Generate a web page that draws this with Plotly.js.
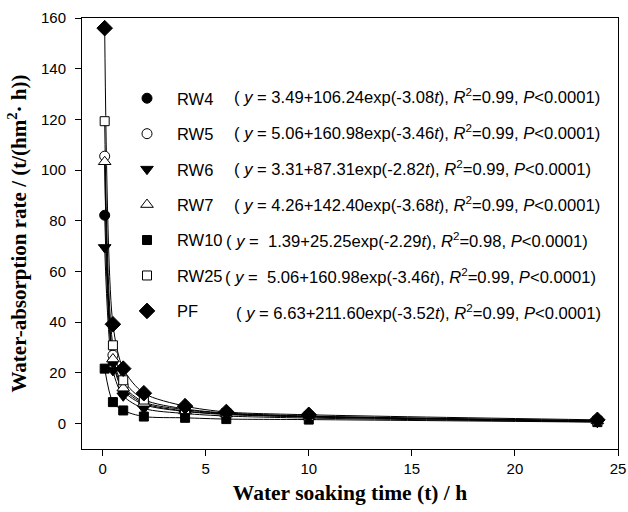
<!DOCTYPE html>
<html>
<head>
<meta charset="utf-8">
<script src="https://cdn.plot.ly/plotly-3.0.1.min.js"></script>
<style>html,body{margin:0;padding:0;background:#fff;}#chart{width:628px;height:512px;}</style>
</head>
<body>
<div id="chart"></div>
<script>
// Time points (h)
var soakTime = [0.1, 0.5, 1, 2, 4, 6, 10, 24];
// Water-absorption rate values per sample
var rw4  = [82.2, 24.5, 13.0, 7.5, 4.8, 3.6, 2.6, 0.9];
var rw5  = [105.5, 27.0, 15.0, 8.5, 5.5, 4.0, 2.9, 1.0];
var rw6  = [69.5, 21.0, 11.0, 6.0, 4.0, 3.0, 2.2, 0.7];
var rw7  = [103.3, 25.5, 14.0, 8.0, 5.0, 3.8, 2.7, 1.1];
var rw10 = [21.7, 8.5, 5.2, 2.8, 2.3, 1.8, 1.6, 0.6];
var rw25 = [119.3, 30.9, 17.1, 9.5, 5.8, 4.2, 3.0, 1.2];
var pf   = [156.0, 39.2, 21.7, 12.0, 6.9, 4.6, 3.5, 1.5];

var seriesNames = ["RW4", "RW5", "RW6", "RW7", "RW10", "RW25", "PF"];
var seriesValues = [rw4, rw5, rw6, rw7, rw10, rw25, pf];
var equations = [
  "( <i>y</i> = 3.49+106.24exp(-3.08<i>t</i>), <i>R</i><sup>2</sup>=0.99, <i>P</i>&lt;0.0001)",
  "( <i>y</i> = 5.06+160.98exp(-3.46<i>t</i>), <i>R</i><sup>2</sup>=0.99, <i>P</i>&lt;0.0001)",
  "( <i>y</i> = 3.31+87.31exp(-2.82<i>t</i>), <i>R</i><sup>2</sup>=0.99, <i>P</i>&lt;0.0001)",
  "( <i>y</i> = 4.26+142.40exp(-3.68<i>t</i>), <i>R</i><sup>2</sup>=0.99, <i>P</i>&lt;0.0001)",
  "( <i>y</i> =  1.39+25.25exp(-2.29<i>t</i>), <i>R</i><sup>2</sup>=0.98, <i>P</i>&lt;0.0001)",
  "( <i>y</i> =  5.06+160.98exp(-3.46<i>t</i>), <i>R</i><sup>2</sup>=0.99, <i>P</i>&lt;0.0001)",
  "( <i>y</i> = 6.63+211.60exp(-3.52<i>t</i>), <i>R</i><sup>2</sup>=0.99, <i>P</i>&lt;0.0001)"
];

var styles = [
  {symbol: "circle", fill: "#000", size: 10},
  {symbol: "circle", fill: "#fff", size: 10},
  {symbol: "triangle-down", fill: "#000", size: 11},
  {symbol: "triangle-up", fill: "#fff", size: 11},
  {symbol: "square", fill: "#000", size: 9},
  {symbol: "square", fill: "#fff", size: 9},
  {symbol: "diamond", fill: "#000", size: 12}
];
var eqX = [232, 232, 232, 232, 224, 223, 234];

var traces = [];
seriesValues.forEach(function (vals, i) {
  traces.push({
    x: soakTime, y: vals, type: "scatter", mode: "lines",
    line: {color: "#000", width: 1, shape: "spline", smoothing: 0.8},
    showlegend: false, hoverinfo: "skip"
  });
});
seriesValues.forEach(function (vals, i) {
  traces.push({
    x: soakTime, y: vals, type: "scatter", mode: "markers",
    name: seriesNames[i], legendgroup: "g" + i,
    marker: {symbol: styles[i].symbol, size: styles[i].size, color: styles[i].fill,
             line: {color: "#000", width: 1}}
  });
});

var L = 82, R = 618, T = 18, B = 449;
var rowY = [95.5, 131.5, 167.5, 203.5, 239.5, 275.5, 311.5];
var annotations = equations.map(function (eq, i) {
  return {
    xref: "paper", yref: "paper",
    x: (eqX[i] - L) / (R - L), y: (B - rowY[i]) / (B - T),
    xanchor: "left", yanchor: "middle", showarrow: false,
    text: eq, font: {family: "Liberation Sans, Arial, sans-serif", size: 16.6, color: "#000"}
  };
});

var axisCommon = {
  showline: true, linecolor: "#000", linewidth: 1, mirror: true,
  showgrid: false, zeroline: false, ticks: "outside", ticklen: 6, tickwidth: 1, tickcolor: "#000",
  tickfont: {family: "Liberation Sans, Arial, sans-serif", size: 15, color: "#000"}
};

var layout = {
  width: 628, height: 512,
  margin: {l: L, r: 628 - R, t: T, b: 512 - B},
  paper_bgcolor: "#fff", plot_bgcolor: "#fff",
  xaxis: Object.assign({}, axisCommon, {
    range: [-1, 25], dtick: 5, tick0: 0,
    title: {text: "<b>Water soaking time (t) / h</b>", standoff: 8,
            font: {family: "Liberation Serif, Times New Roman, serif", size: 21.5, color: "#000"}}
  }),
  yaxis: Object.assign({}, axisCommon, {
    range: [-10, 160], dtick: 20, tick0: 0, ticklabelstandoff: 6,
    title: {text: "<b>Water-absorption rate / (t/(hm<sup>2</sup>· h))</b>", standoff: 8,
            font: {family: "Liberation Serif, Times New Roman, serif", size: 21, color: "#000"}}
  }),
  legend: {
    x: (117 - L) / (R - L), y: (B - 81) / (B - T), xanchor: "left", yanchor: "top",
    bgcolor: "rgba(0,0,0,0)", borderwidth: 0, tracegroupgap: 11, itemwidth: 50,
    font: {family: "Liberation Sans, Arial, sans-serif", size: 16.5, color: "#000"}
  },
  annotations: annotations,
  showlegend: true
};

Plotly.newPlot("chart", traces, layout, {displayModeBar: false, staticPlot: true});
</script>
</body>
</html>
